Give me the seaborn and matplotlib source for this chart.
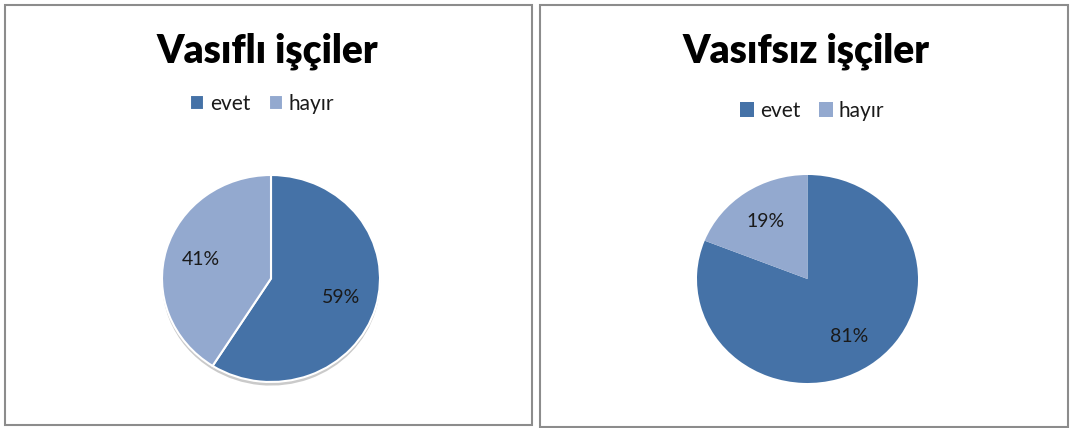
import matplotlib
matplotlib.use('Agg')

import matplotlib.pyplot as plt
from matplotlib.patches import Rectangle, Shadow

import seaborn as sns

LABELS = ['evet', 'hayır']
TITLES = ['Vasıflı işçiler', 'Vasıfsız işçiler']
SKILLED = [59, 41]
UNSKILLED = [81, 19]

COLORS = ['#4572A7', '#93A9CF']
W, H = 1072, 428


def px_box(x0, y0, x1, y1):
    # pixel box (top-left origin) -> figure fraction [l, b, w, h]
    return [x0 / W, (H - y1) / H, (x1 - x0) / W, (y1 - y0) / H]


def draw_pie(fig, box, values, shadow, edge):
    ax = fig.add_axes(box)
    wedges, texts, autotexts = ax.pie(
        values, colors=COLORS, startangle=90, counterclock=False,
        autopct=lambda p: f'{round(p)}%', pctdistance=0.67,
        shadow={'ox': 0.0, 'oy': -0.025} if shadow else False,
        wedgeprops={'edgecolor': 'white' if edge else 'none',
                    'linewidth': 1.5 if edge else 0},
        textprops={'fontsize': 14, 'color': '#1a1a1a'})
    ax.set_aspect('auto')
    ax.set_xlim(-1, 1)
    ax.set_ylim(-1, 1)
    for p in ax.patches:
        p.set_clip_on(False)
        if isinstance(p, Shadow):
            p.set_facecolor('#bdbdbd')
            p.set_edgecolor('none')
            p.set_alpha(0.8)
    ax.axis('off')
    return ax, wedges


def main():
    sns.set_theme(style='white')
    plt.rcParams['font.family'] = ['Lato', 'DejaVu Sans']

    fig = plt.figure(figsize=(W / 100, H / 100), dpi=100)

    # panel frames
    for x0, y0, x1, y1 in [(5, 5, 532, 425), (540, 5, 1068, 427)]:
        l, b, w, h = px_box(x0, y0, x1, y1)
        fig.patches.append(Rectangle((l, b), w, h, transform=fig.transFigure,
                                     fill=False, edgecolor='#8c8c8c',
                                     linewidth=1.5))

    panels = [
        (px_box(162, 175, 380, 382), SKILLED, True, True, 267, 51, 262, 104),
        (px_box(697, 175, 918, 383), UNSKILLED, False, False, 806, 51, 812, 111),
    ]
    for i, (box, vals, shadow, edge, tx, ty, lx, ly) in enumerate(panels):
        ax, wedges = draw_pie(fig, box, vals, shadow, edge)
        fig.text(tx / W, 1 - ty / H, TITLES[i], ha='center', va='center',
                 fontsize=28, fontweight='heavy', color='black')
        ax.legend(wedges, LABELS, loc='center',
                  bbox_to_anchor=(lx / W, 1 - ly / H),
                  bbox_transform=fig.transFigure, ncol=2, frameon=False,
                  fontsize=15, handlelength=0.7, handleheight=0.7,
                  handletextpad=0.25, columnspacing=0.9,
                  labelcolor='#1a1a1a')

    fig.savefig('out.png', dpi=100, facecolor='white')


if __name__ == '__main__':
    main()
